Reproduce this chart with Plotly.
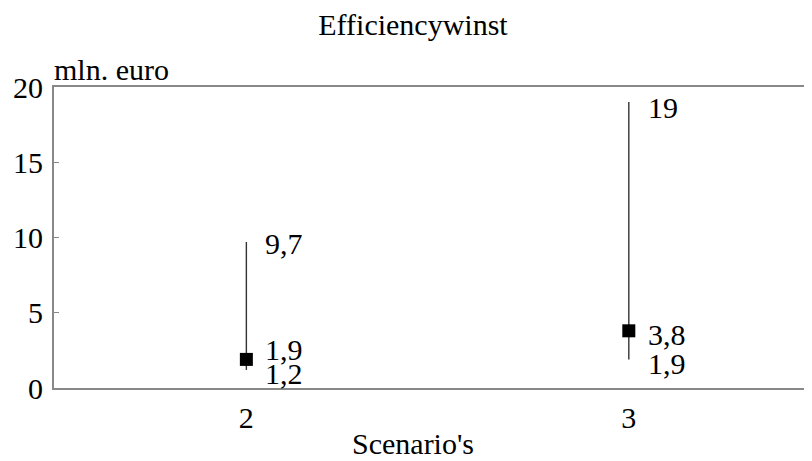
import plotly.graph_objects as go

# Data
scenarios = [2, 3]
tick_labels = ["2", "3"]
low = [1.2, 1.9]
mid = [1.9, 3.8]
high = [9.7, 19]
low_labels = ["1,2", "1,9"]
mid_labels = ["1,9", "3,8"]
high_labels = ["9,7", "19"]
y_ticks = [0, 5, 10, 15, 20]

FONT = "Liberation Serif"
FS = 30

# the page body adds an 8px margin; figure sized so the right edge meets the window
W, H = 804, 453

err_plus = [h - m for h, m in zip(high, mid)]
err_minus = [m - l for m, l in zip(mid, low)]

fig = go.Figure()
fig.add_trace(go.Scatter(
    x=scenarios, y=mid, mode="markers",
    marker=dict(symbol="square", size=13, color="black"),
    error_y=dict(type="data", array=err_plus, arrayminus=err_minus,
                 visible=True, width=0, thickness=1.4, color="#333333"),
    showlegend=False, hoverinfo="skip",
))

# value labels (with small offsets to avoid overlap)
label_sets = [(high, high_labels, [-1, -5]),
              (mid, mid_labels, [10, -4]),
              (low, low_labels, [-4, -4])]
for vals, labs, shifts in label_sets:
    for i, (v, t) in enumerate(zip(vals, labs)):
        fig.add_annotation(x=scenarios[i], y=v, text=t, showarrow=False,
                           xanchor="left", yanchor="middle", xshift=17,
                           yshift=shifts[i],
                           font=dict(family=FONT, size=FS, color="black"))

fig.add_annotation(xref="paper", yref="paper", x=-2 / 758, y=1.0, yshift=18,
                   text="mln. euro", showarrow=False, xanchor="left",
                   yanchor="middle", font=dict(family=FONT, size=FS, color="black"))
fig.add_annotation(xref="paper", yref="paper", x=(413 - 54) / 758, y=0, yshift=-55,
                   text="Scenario's", showarrow=False, xanchor="center",
                   yanchor="middle", font=dict(family=FONT, size=FS, color="black"))

fig.update_layout(
    width=W, height=H,
    margin=dict(l=46, r=0, t=79, b=73),
    paper_bgcolor="white", plot_bgcolor="white",
    font=dict(family=FONT, size=FS, color="black"),
    title=dict(text="Efficiencywinst", x=405 / W, xanchor="center",
               y=1 - 16 / H, yanchor="middle", yref="container",
               font=dict(family=FONT, size=FS, color="black")),
    xaxis=dict(range=[1.497, 3.479], tickvals=scenarios, ticktext=tick_labels,
               showgrid=False, showline=True, linecolor="#888888", linewidth=2,
               mirror=True, ticks="", ticklabelstandoff=2,
               tickfont=dict(family=FONT, size=FS, color="black"),
               zeroline=False, fixedrange=True),
    yaxis=dict(range=[0, 20], tickvals=y_ticks, showgrid=False,
               showline=True, linecolor="#888888", linewidth=2,
               ticks="inside", ticklen=5, tickcolor="#888888", tickwidth=1,
               ticklabelstandoff=3,
               tickfont=dict(family=FONT, size=FS, color="black"),
               zeroline=False, fixedrange=True),
)

fig.write_html("out.html")
